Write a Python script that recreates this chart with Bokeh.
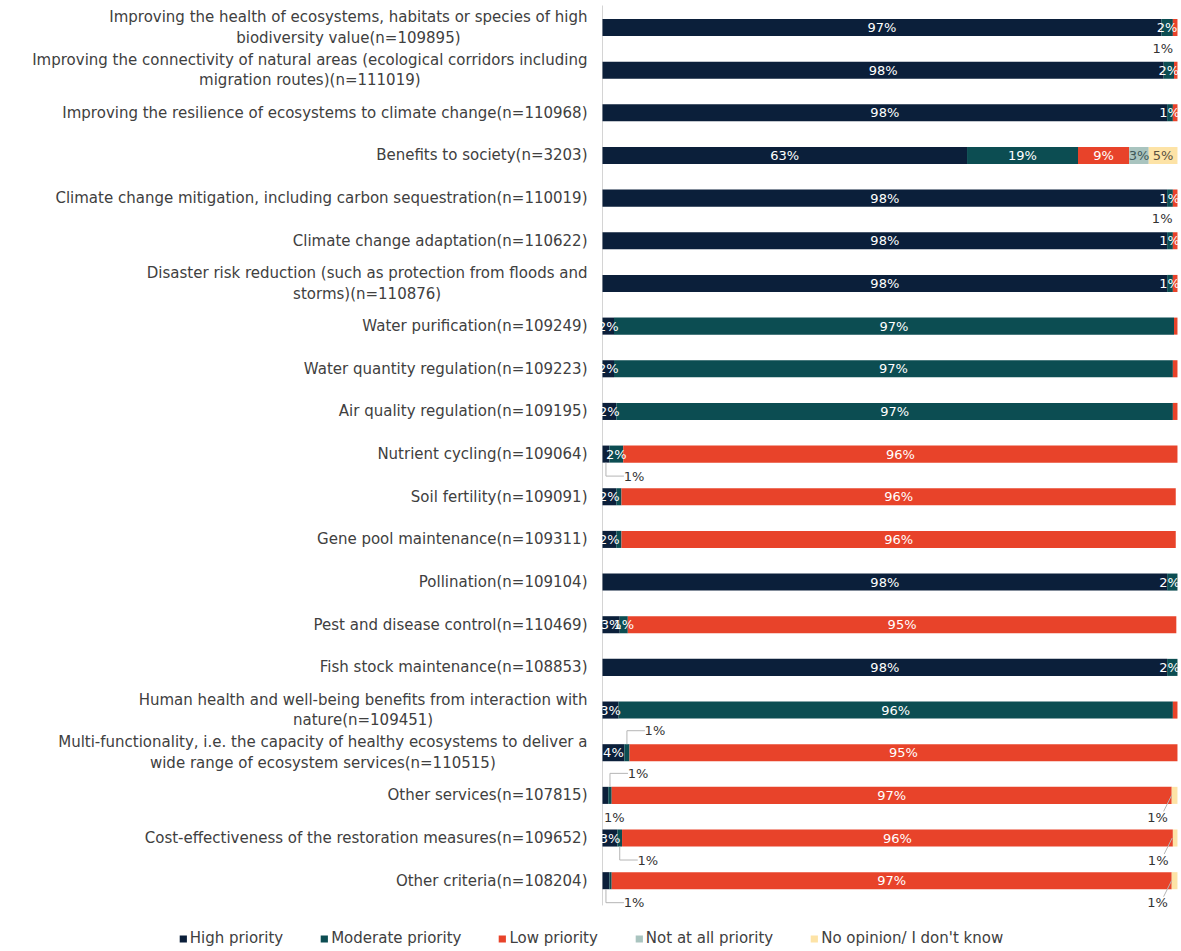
from bokeh.plotting import figure
from bokeh.models import Range1d, ColumnDataSource, Legend, LegendItem
from bokeh.core.properties import value
from bokeh.embed import file_html
from bokeh.resources import INLINE

categories = [
    "Improving the health of ecosystems, habitats or species of high\nbiodiversity value(n=109895)",
    "Improving the connectivity of natural areas (ecological corridors including\nmigration routes)(n=111019)",
    "Improving the resilience of ecosystems to climate change(n=110968)",
    "Benefits to society(n=3203)",
    "Climate change mitigation, including carbon sequestration(n=110019)",
    "Climate change adaptation(n=110622)",
    "Disaster risk reduction (such as protection from floods and\nstorms)(n=110876)",
    "Water purification(n=109249)",
    "Water quantity regulation(n=109223)",
    "Air quality regulation(n=109195)",
    "Nutrient cycling(n=109064)",
    "Soil fertility(n=109091)",
    "Gene pool maintenance(n=109311)",
    "Pollination(n=109104)",
    "Pest and disease control(n=110469)",
    "Fish stock maintenance(n=108853)",
    "Human health and well-being benefits from interaction with\nnature(n=109451)",
    "Multi-functionality, i.e. the capacity of healthy ecosystems to deliver a\nwide range of ecosystem services(n=110515)",
    "Other services(n=107815)",
    "Cost-effectiveness of the restoration measures(n=109652)",
    "Other criteria(n=108204)",
]

series_names = ["High priority", "Moderate priority", "Low priority",
                "Not at all priority", "No opinion/ I don't know"]

high_priority = [97.2, 97.6, 98.2, 63.4, 98.2, 98.2, 98.2, 2.0, 2.0, 2.4, 1.2,
                 2.4, 2.4, 98.2, 3.0, 98.2, 2.8, 3.8, 1.0, 2.6, 1.2]
moderate_priority = [2.0, 1.8, 1.0, 19.3, 1.0, 1.0, 1.0, 97.4, 97.2, 96.8, 2.4,
                     0.9, 0.9, 1.8, 1.4, 1.8, 96.4, 0.9, 0.6, 0.8, 0.4]
low_priority = [0.8, 0.6, 0.8, 8.9, 0.8, 0.8, 0.8, 0.6, 0.8, 0.8, 96.4,
                96.4, 96.4, 0.0, 95.4, 0.0, 0.8, 95.3, 97.4, 95.8, 97.4]
not_at_all_priority = [0.0, 0.0, 0.0, 3.4, 0.0, 0.0, 0.0, 0.0, 0.0, 0.0, 0.0,
                       0.0, 0.0, 0.0, 0.0, 0.0, 0.0, 0.0, 0.0, 0.0, 0.0]
no_opinion = [0.0, 0.0, 0.0, 5.0, 0.0, 0.0, 0.0, 0.0, 0.0, 0.0, 0.0,
              0.0, 0.0, 0.0, 0.0, 0.0, 0.0, 0.0, 1.0, 0.8, 1.0]

# small segments labelled outside the bar: (row, series, side, leader)
callouts = [
    (1, 2, "above", False), (5, 2, "above", False),
    (10, 0, "below", True), (17, 1, "above", True),
    (18, 1, "above", True), (18, 0, "below", False), (18, 4, "below", True),
    (19, 1, "below", True), (19, 4, "below", True),
    (20, 0, "below", True), (20, 4, "below", True),
]

colors = ["#0b1f3a", "#0c4d52", "#e8432a", "#a9c4bf", "#fde3a6"]
label_colors = ["white", "white", "white", "#3d5757", "#5a5040"]

W, H = 1181, 951
X0, X1 = -104.7, 100.7
Y_TOP, Y_BOT = -0.633, 21.66
px_x = W / (X1 - X0)
px_y = H / (Y_BOT - Y_TOP)
BAR_H = 0.4

rows = list(range(len(categories)))
data = {"y": rows}
keys = ["s0", "s1", "s2", "s3", "s4"]
all_series = [high_priority, moderate_priority, low_priority, not_at_all_priority, no_opinion]
for k, s in zip(keys, all_series):
    data[k] = s
source = ColumnDataSource(data)

p = figure(width=W, height=H, x_range=Range1d(X0, X1), y_range=Range1d(Y_BOT, Y_TOP),
           output_backend="svg", toolbar_location=None, min_border=0)
p.axis.visible = False
p.grid.visible = False
p.outline_line_color = None
p.background_fill_color = "white"

# vertical baseline
p.segment(x0=[0], y0=[Y_TOP + 5 / px_y], x1=[0], y1=[len(rows) - 1 + 0.58],
          line_color="#d4d4d4", line_width=1)

renderers = p.hbar_stack(keys, y="y", height=BAR_H, color=colors, source=source,
                         line_width=0)

# inside labels (kept inside the plotting area at the right edge)
x_max_label = X1 - 12 / px_x
callout_set = {(r, s) for r, s, _, _ in callouts}
lx, ly, lt, lc = [], [], [], []
cum = [0.0] * len(rows)
lefts = []
for si, s in enumerate(all_series):
    lefts.append(list(cum))
    for r, v in enumerate(s):
        if v >= 0.95 and (r, si) not in callout_set:
            lx.append(min(cum[r] + v / 2, x_max_label))
            ly.append(r)
            lt.append(f"{round(v)}%")
            lc.append(label_colors[si])
        cum[r] += v
p.text(x=lx, y=ly, text=lt, text_color=lc, text_align="center", text_baseline="middle",
       text_font=value("DejaVu Sans"), text_font_size="13px")

# callouts
cx, cy, ct = [], [], []
lines_x, lines_y = [], []
for r, si, side, leader in callouts:
    v = all_series[si][r]
    c = lefts[si][r] + v / 2
    sign = -1 if side == "above" else 1
    ty = r + sign * 22 / px_y
    y_edge = r + sign * BAR_H / 2
    if c < 50:
        tx = c + (28 if leader else 9) / px_x
        end_x = tx - 10 / px_x
        if leader:
            lines_x.append([c, c, end_x])
            lines_y.append([y_edge, ty, ty])
    else:
        tx = c - (17 if leader else 13) / px_x
        end_x = tx + 6 / px_x
        if leader:
            lines_x.append([c - 3 / px_x, end_x])
            lines_y.append([r, ty - sign * 6 / px_y])
    cx.append(tx)
    cy.append(ty)
    ct.append(f"{round(v)}%")
p.multi_line(xs=lines_x, ys=lines_y, line_color="#b5b5b5", line_width=1)
p.text(x=cx, y=cy, text=ct, text_color="#333333", text_align="center", text_baseline="middle",
       text_font=value("DejaVu Sans"), text_font_size="13px")

# category labels
p.text(x=[-15 / px_x] * len(rows), y=rows, text=categories, anchor="center_right",
       text_align="center", text_baseline="middle", text_color="#404040",
       text_font=value("DejaVu Sans"), text_font_size="15px", text_line_height=1.15)

legend = Legend(items=[LegendItem(label=n, renderers=[r]) for n, r in zip(series_names, renderers)],
                location="bottom_center", orientation="horizontal")
legend.background_fill_alpha = 0
legend.border_line_alpha = 0
legend.label_text_font = "DejaVu Sans"
legend.label_text_font_size = "15px"
legend.label_text_color = "#404040"
legend.glyph_width = 9
legend.glyph_height = 9
legend.label_standoff = 3
legend.spacing = 36
legend.padding = 2
legend.margin = 2
p.add_layout(legend)

open("out.html", "w").write(file_html(p, INLINE))
